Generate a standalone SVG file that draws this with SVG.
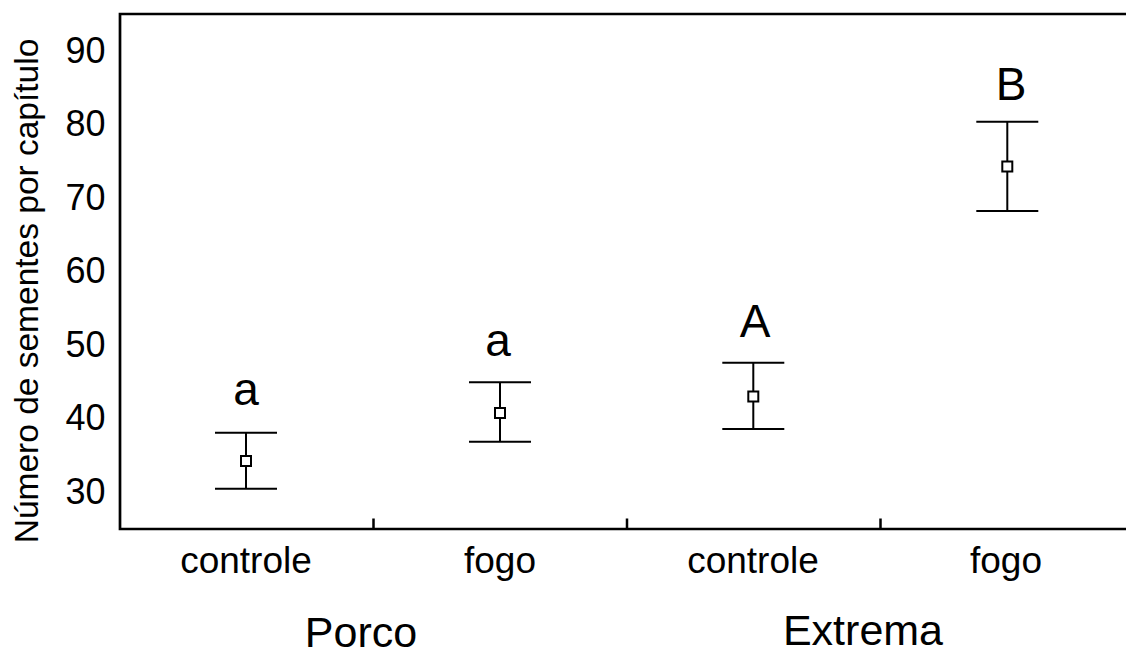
<svg xmlns="http://www.w3.org/2000/svg" width="1126" height="657" viewBox="0 0 1126 657">
<style>
text{font-family:"Liberation Sans",Arial,Helvetica,sans-serif;fill:#000}
.ax{stroke:#000;stroke-width:2.7;fill:none}
.tk{stroke:#000;stroke-width:2.5;fill:none}
.eb{stroke:#000;stroke-width:2;fill:none}
.pt{fill:#fff;stroke:#000;stroke-width:2}
.yl{font-size:36px;text-anchor:end}
.xl{font-size:37px;text-anchor:middle}
.gl{font-size:43px;text-anchor:middle}
.sig{font-size:46px;text-anchor:middle}
</style>
<rect width="1126" height="657" fill="#fff"/>
<g id="axes">
<path class="ax" d="M1126,14 H120 V529 H1126"/>
<path class="tk" d="M373.5,529 V518.5 M627,529 V518.5 M880.5,529 V518.5"/>
</g>
<g id="y-ticks">
<text class="yl" x="105.5" y="62.5">90</text>
<text class="yl" x="105.5" y="136.1">80</text>
<text class="yl" x="105.5" y="209.7">70</text>
<text class="yl" x="105.5" y="283.2">60</text>
<text class="yl" x="105.5" y="356.8">50</text>
<text class="yl" x="105.5" y="430.4">40</text>
<text class="yl" x="105.5" y="504">30</text>
</g>
<g id="y-title">
<text transform="translate(37.5,291) rotate(-90)" x="0" y="0" font-size="33.5" text-anchor="middle">Número de sementes por capítulo</text>
</g>
<g id="x-labels">
<text class="xl" x="246" y="573">controle</text>
<text class="xl" x="500" y="573">fogo</text>
<text class="xl" x="753" y="573">controle</text>
<text class="xl" x="1006" y="573">fogo</text>
<text class="gl" x="361" y="647">Porco</text>
<text class="gl" x="863" y="645">Extrema</text>
</g>
<g id="porco-controle">
<path class="eb" d="M215,432.7 H277 M215,488.7 H277 M246,432.7 V488.7"/>
<rect class="pt" x="241" y="456" width="10" height="10"/>
<text class="sig" x="246" y="405">a</text>
</g>
<g id="porco-fogo">
<path class="eb" d="M469,382.3 H531 M469,441.7 H531 M500,382.3 V441.7"/>
<rect class="pt" x="495" y="408" width="10" height="10"/>
<text class="sig" x="498" y="356">a</text>
</g>
<g id="extrema-controle">
<path class="eb" d="M722.3,362.7 H784.3 M722.3,429 H784.3 M753.3,362.7 V429"/>
<rect class="pt" x="748.3" y="391.5" width="10" height="10"/>
<text class="sig" x="755" y="337">A</text>
</g>
<g id="extrema-fogo">
<path class="eb" d="M976.3,121.7 H1038.3 M976.3,211 H1038.3 M1007.3,121.7 V211"/>
<rect class="pt" x="1002.3" y="161.5" width="10" height="10"/>
<text class="sig" x="1011" y="100">B</text>
</g>
<g id="connectors"/>
</svg>
